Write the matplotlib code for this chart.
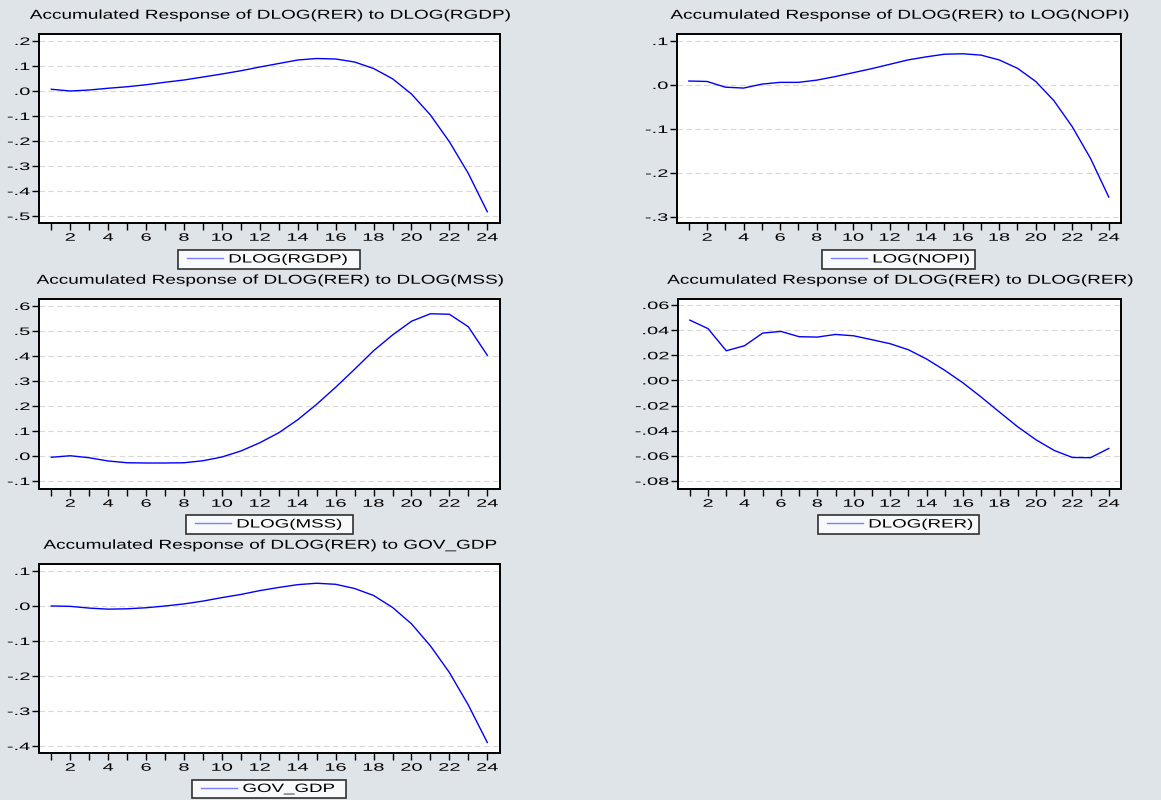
import matplotlib
matplotlib.use("Agg")
import matplotlib.pyplot as plt
from matplotlib.patheffects import AbstractPathEffect
from matplotlib.transforms import Affine2D
from matplotlib.legend_handler import HandlerLine2D
from matplotlib.lines import Line2D
import numpy as np

plt.rcParams['font.family'] = ['Liberation Sans', 'DejaVu Sans']

periods = list(range(1, 25))

rgdp = [0.007, 0.0, 0.004, 0.011, 0.017, 0.025, 0.035, 0.044, 0.056, 0.068, 0.081, 0.096,
        0.110, 0.124, 0.130, 0.128, 0.116, 0.090, 0.049, -0.012, -0.096, -0.203, -0.330, -0.483]
nopi = [0.009, 0.008, -0.005, -0.007, 0.002, 0.006, 0.006, 0.011, 0.019, 0.028, 0.037, 0.047,
        0.057, 0.064, 0.070, 0.071, 0.068, 0.057, 0.038, 0.008, -0.036, -0.095, -0.167, -0.255]
mss = [-0.005, 0.001, -0.007, -0.020, -0.027, -0.028, -0.028, -0.027, -0.019, -0.004, 0.020, 0.053,
       0.093, 0.145, 0.207, 0.275, 0.347, 0.421, 0.484, 0.539, 0.569, 0.567, 0.517, 0.403]
rer = [0.0480, 0.0412, 0.0236, 0.0276, 0.0377, 0.0390, 0.0348, 0.0345, 0.0366, 0.0355, 0.0324, 0.0292,
       0.0244, 0.0170, 0.0080, -0.0020, -0.0133, -0.0252, -0.0369, -0.0472, -0.0557, -0.0613, -0.0615, -0.0541]
gov = [0.000, -0.001, -0.006, -0.009, -0.008, -0.005, 0.000, 0.006, 0.014, 0.024, 0.033, 0.044,
       0.053, 0.061, 0.065, 0.062, 0.050, 0.030, -0.004, -0.051, -0.114, -0.190, -0.283, -0.390]

# title, legend label, data, y ticks, ylim, decimals
panels = [
    ("Accumulated Response of DLOG(RER) to DLOG(RGDP)", "DLOG(RGDP)", rgdp,
     [0.2, 0.1, 0.0, -0.1, -0.2, -0.3, -0.4, -0.5], (-0.528, 0.228), 1),
    ("Accumulated Response of DLOG(RER) to LOG(NOPI)", "LOG(NOPI)", nopi,
     [0.1, 0.0, -0.1, -0.2, -0.3], (-0.314, 0.116), 1),
    ("Accumulated Response of DLOG(RER) to DLOG(MSS)", "DLOG(MSS)", mss,
     [0.6, 0.5, 0.4, 0.3, 0.2, 0.1, 0.0, -0.1], (-0.132, 0.628), 1),
    ("Accumulated Response of DLOG(RER) to DLOG(RER)", "DLOG(RER)", rer,
     [0.06, 0.04, 0.02, 0.0, -0.02, -0.04, -0.06, -0.08], (-0.0864, 0.0648), 2),
    ("Accumulated Response of DLOG(RER) to GOV_GDP", "GOV_GDP", gov,
     [0.1, 0.0, -0.1, -0.2, -0.3, -0.4], (-0.42, 0.12), 1),
]

# axes boxes in pixels: left, top, right, bottom
boxes = [(39, 34, 500, 223), (677, 34, 1121, 223),
         (39, 299, 500, 489), (678, 299, 1121, 489),
         (39, 564, 500, 753)]
# legend boxes in pixels: left, right, vertical centre
legboxes = [(178, 360, 259.5), (822, 975, 259.5),
            (186, 353, 524.5), (818, 979, 524.5),
            (192, 346, 789)]

W, H = 1161, 800
bg = '#dfe4e9'


class HStretch(AbstractPathEffect):
    # eviews-like wide text: stretch glyphs horizontally around an anchor
    def __init__(self, sx, anchor='center'):
        super().__init__()
        self.sx = sx
        self.anchor = anchor

    def draw_path(self, renderer, gc, tpath, affine, rgbFace=None):
        ext = tpath.transformed(affine).get_extents()
        if self.anchor == 'left':
            cx = ext.x0
        elif self.anchor == 'right':
            cx = ext.x1
        else:
            cx = (ext.x0 + ext.x1) / 2
        t = affine + Affine2D().translate(-cx, 0).scale(self.sx, 1).translate(cx, 0)
        renderer.draw_path(gc, tpath, t, rgbFace)


def fmt(v, nd):
    s = f"{v:.{nd}f}"
    if s.startswith("-0"):
        s = "-" + s[2:]
    elif s.startswith("0"):
        s = s[1:]
    return s


fig = plt.figure(figsize=(W / 100, H / 100), dpi=100, facecolor=bg)

for (title, label, data, yt, ylim, nd), (l, t, r, b), (lx0, lx1, lyc) in zip(panels, boxes, legboxes):
    ax = fig.add_axes([l / W, 1 - b / H, (r - l) / W, (b - t) / H])
    ax.set_facecolor('white')
    ax.plot(periods, data, color='#0000ff', lw=1.0, label=label)
    ax.set_xlim(0.35, 24.67)
    ax.set_ylim(*ylim)
    ax.set_xticks(periods)
    ax.set_xticklabels([str(p) if p % 2 == 0 else "" for p in periods])
    ax.set_yticks(yt)
    ax.set_yticklabels([fmt(v, nd) for v in yt])
    ax.grid(axis='y', color='#d8d8d8', ls=(0, (5, 3)), lw=0.8)
    ax.tick_params(axis='both', direction='out', length=5, width=1, labelsize=7.8)
    ax.tick_params(axis='x', pad=2)
    ax.tick_params(axis='y', pad=1.5)
    for lbl in ax.get_xticklabels():
        lbl.set_path_effects([HStretch(1.85, 'center')])
    for lbl in ax.get_yticklabels():
        lbl.set_path_effects([HStretch(1.85, 'right')])
    for sp in ax.spines.values():
        sp.set_linewidth(1.4)
    ax.set_title(title, fontsize=9.3, pad=11)
    ax.title.set_path_effects([HStretch(1.47, 'center')])

    aw, ah = r - l, b - t
    leg = ax.legend(loc='center', bbox_to_anchor=((lx0 - l) / aw, (b - lyc) / ah, (lx1 - lx0) / aw, 0),
                    mode='expand', frameon=True, fancybox=False, edgecolor='black', fontsize=8.7,
                    handlelength=3.5, borderpad=0.25, handletextpad=0.45, borderaxespad=0,
                    handler_map={Line2D: HandlerLine2D(xpad=0.5)})
    leg.get_frame().set_linewidth(1.2)
    for ln in leg.get_lines():
        ln.set_color('#8080ff')
    for txt in leg.get_texts():
        txt.set_path_effects([HStretch(1.55, 'left')])

fig.savefig("out.png", dpi=100, facecolor=bg)
